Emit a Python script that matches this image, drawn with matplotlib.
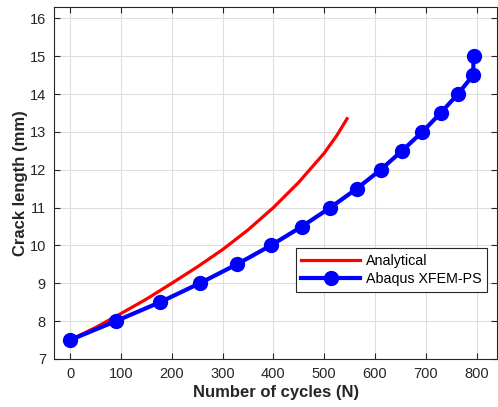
import matplotlib
matplotlib.use("Agg")
import matplotlib.pyplot as plt

plt.rcParams['font.family'] = ['Liberation Sans', 'DejaVu Sans']

# analytical curve
CyclesAnalytical = [0, 50, 100, 150, 200, 250, 300, 350, 400, 450, 500, 525, 545]
LengthAnalytical = [7.5, 7.83, 8.2, 8.58, 9.0, 9.43, 9.89, 10.41, 11.0, 11.67, 12.44, 12.91, 13.35]

# Abaqus XFEM-PS points
CyclesXfem = [0, 90, 177, 255, 328, 395, 456, 512, 564, 611, 653, 693, 729, 763, 793, 794]
LengthXfem = [7.5, 8.0, 8.5, 9.0, 9.5, 10.0, 10.5, 11.0, 11.5, 12.0, 12.5, 13.0, 13.5, 14.0, 14.5, 15.0]

XTicks = [0, 100, 200, 300, 400, 500, 600, 700, 800]
YTicks = [7, 8, 9, 10, 11, 12, 13, 14, 15, 16]

dark = (0.15, 0.15, 0.15)

fig = plt.figure(figsize=(4.98, 4.07), dpi=100)
ax = fig.add_axes([0.109, 0.118, 0.889, 0.8655])

ax.plot(CyclesAnalytical, LengthAnalytical, color='#ff0000', linewidth=2.3, label='Analytical')
ax.plot(CyclesXfem, LengthXfem, color='#0000ff', linewidth=3, marker='o',
        markersize=10, label='Abaqus XFEM-PS')

ax.set_xlim(-31, 840)
ax.set_ylim(7, 16.31)
ax.set_xticks(XTicks)
ax.set_yticks(YTicks)
ax.grid(True, color=(0.87, 0.87, 0.87), linewidth=0.8)
ax.set_axisbelow(True)

ax.tick_params(direction='in', top=True, right=True, length=4, width=0.8,
               colors=dark, labelsize=10.5, pad=6)
for s in ax.spines.values():
    s.set_color(dark)
    s.set_linewidth(0.8)

ax.set_xlabel('Number of cycles (N)', fontsize=12, fontweight='bold', color=dark, labelpad=3)
ax.set_ylabel('Crack length (mm)', fontsize=12, fontweight='bold', color=dark, labelpad=1)

leg = ax.legend(loc='lower right', bbox_to_anchor=(0.9775, 0.19), fontsize=10.3,
                fancybox=False, edgecolor=dark, framealpha=1, borderpad=0.4,
                handlelength=4.1, handletextpad=0.4, labelspacing=0.3, borderaxespad=0)
leg.get_frame().set_linewidth(0.8)

fig.savefig('out.png', dpi=100)
